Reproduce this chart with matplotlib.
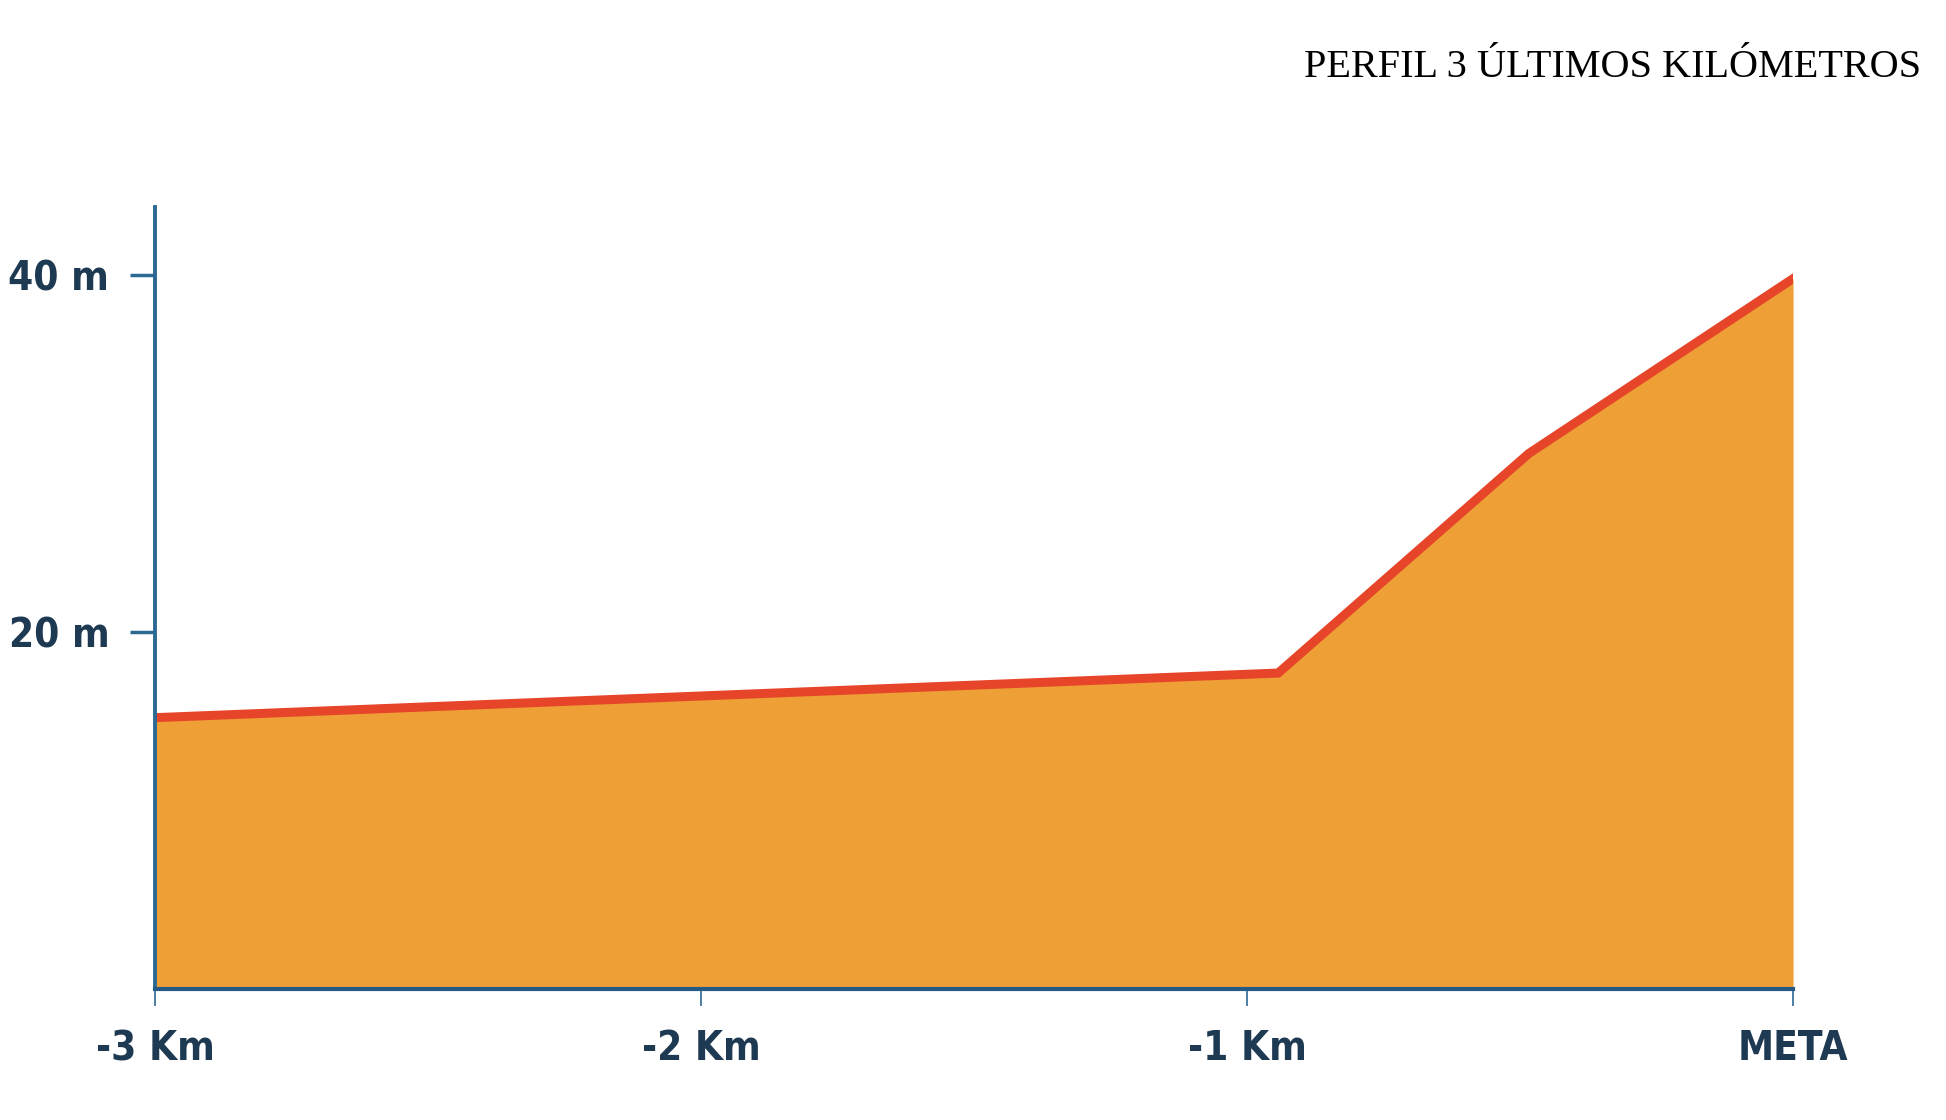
import matplotlib.pyplot as plt
from matplotlib import font_manager

# perfil de los 3 últimos kilómetros
km = [-3.0, -0.943, -0.484, 0.0]
altura = [15.2, 17.7, 30.0, 39.8]
xticks = [-3, -2, -1, 0]
xlabels = ['-3 Km', '-2 Km', '-1 Km', 'META']
yticks = [20, 40]
ylabels = ['20 m', '40 m']


def fuente_estrecha(size):
    # busca una fuente condensada y en negrita; si no hay, Roboto
    def es_negrita(w):
        if isinstance(w, str):
            return w in ('bold', 'semibold', 'demibold', 'heavy', 'black')
        return w >= 600
    cands = [f for f in font_manager.fontManager.ttflist
             if ('condensed' in str(f.stretch) or 'Condensed' in f.name
                 or 'Narrow' in f.name or 'Condensed' in f.fname
                 or 'Narrow' in f.fname) and es_negrita(f.weight)]
    if cands:
        return font_manager.FontProperties(fname=cands[0].fname, size=size)
    return font_manager.FontProperties(family='Roboto', weight='bold', size=size)


azul = '#2c6894'
texto = '#1e3a52'

fig = plt.figure(figsize=(19.46, 11.20), dpi=100)
ax = fig.add_axes([0.0797, 0.117, 0.8417, 0.698])

ax.fill_between(km, altura, 0, color='#ee9f36', lw=0)
ax.plot(km, altura, color='#e6452a', lw=6.5, solid_joinstyle='miter')

ax.set_xlim(-3, 0)
ax.set_ylim(0, 43.8)

for s in ['top', 'right']:
    ax.spines[s].set_visible(False)
ax.spines['left'].set_color(azul)
ax.spines['left'].set_linewidth(2.8)
ax.spines['bottom'].set_color('#265a84')
ax.spines['bottom'].set_linewidth(3)

ax.set_xticks(xticks)
ax.set_xticklabels(xlabels)
ax.set_yticks(yticks)
ax.set_yticklabels(ylabels)
ax.tick_params(axis='x', length=12, width=1.2, color=azul, pad=17)
ax.tick_params(axis='y', length=18, width=2.5, color=azul, pad=15)

fp = fuente_estrecha(29)
for lab in ax.get_xticklabels() + ax.get_yticklabels():
    lab.set_fontproperties(fp)
    lab.set_color(texto)

fig.text(0.987, 0.931, 'PERFIL 3 ÚLTIMOS KILÓMETROS', ha='right', va='baseline',
         fontsize=29, family='Liberation Serif', color='black')

fig.savefig('out.png', dpi=100, facecolor='white')
